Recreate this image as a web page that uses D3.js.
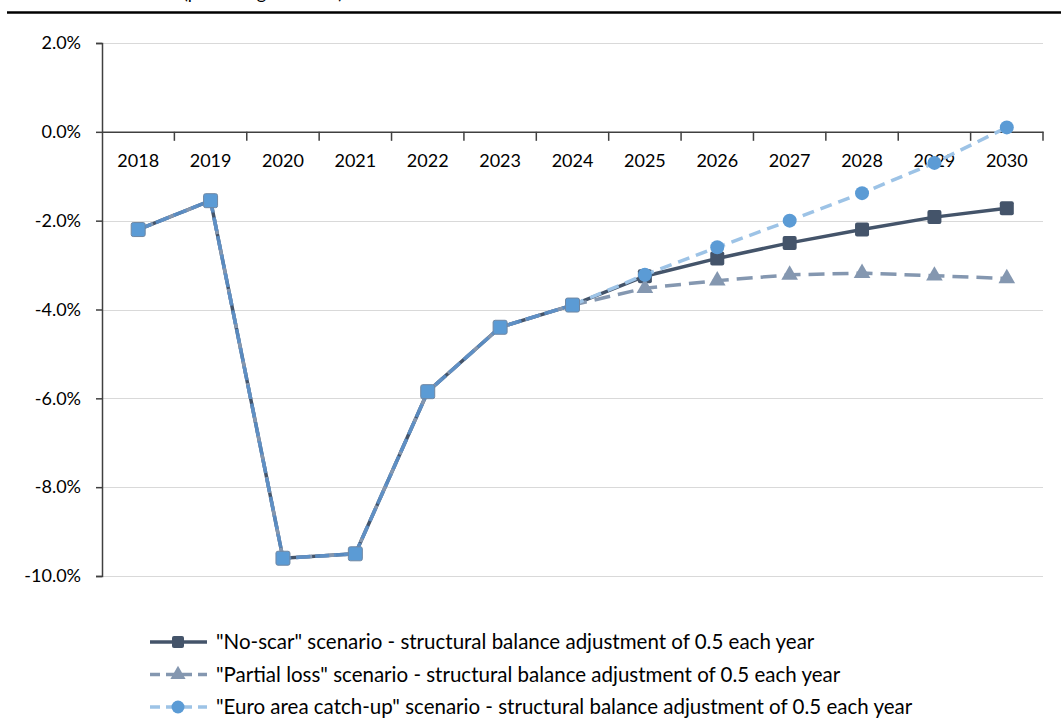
<!DOCTYPE html>
<html>
<head>
<meta charset="utf-8">
<script src="https://cdn.jsdelivr.net/npm/d3@7"></script>
<style>
  html, body { margin: 0; padding: 0; background: #fff; }
  svg { display: block; font-family: Lato, "Noto Sans", sans-serif; }
</style>
</head>
<body>
<svg id="chart" width="1061" height="726"></svg>
<script>
// General government balance, % of GDP
const years = [2018, 2019, 2020, 2021, 2022, 2023, 2024, 2025, 2026, 2027, 2028, 2029, 2030];
const lastOutturnYear = 2024;
const noScar      = [-2.2, -1.55, -9.6, -9.5, -5.85, -4.4, -3.9, -3.25, -2.85, -2.5, -2.2, -1.92, -1.72];
const partialLoss = [-2.2, -1.55, -9.6, -9.5, -5.85, -4.4, -3.9, -3.52, -3.35, -3.22, -3.18, -3.24, -3.3];
const euroCatchUp = [-2.2, -1.55, -9.6, -9.5, -5.85, -4.4, -3.9, -3.22, -2.6, -2.0, -1.38, -0.7, 0.1];
const yTicks = [2, 0, -2, -4, -6, -8, -10];
const seriesNames = [
  '"No-scar" scenario - structural balance adjustment of 0.5 each year',
  '"Partial loss" scenario - structural balance adjustment of 0.5 each year',
  '"Euro area catch-up" scenario - structural balance adjustment of 0.5 each year'
];

const svg = d3.select("#chart");
const plotLeft = 102, plotRight = 1043, plotTop = 43, plotBottom = 576;
const axisFont = 18, legendFont = 20.5;

const x = d3.scaleBand().domain(years).range([plotLeft, plotRight]);
const y = d3.scaleLinear().domain([-10, 2]).range([plotBottom, plotTop]);
const cx = d => x(d) + x.bandwidth() / 2;

// heading strip (runs off the top edge)
svg.append("text").attr("x", 183).attr("y", -1).attr("font-size", 18).attr("fill", "#000")
  .text("(percentage of GDP)");
svg.append("line").attr("x1", 7).attr("x2", 1061).attr("y1", 12.5).attr("y2", 12.5)
  .attr("stroke", "#000").attr("stroke-width", 2.5);

// gridlines
svg.append("g").selectAll("line").data(yTicks.filter(t => t !== 0)).join("line")
  .attr("x1", plotLeft).attr("x2", plotRight)
  .attr("y1", d => Math.round(y(d)) + 0.5).attr("y2", d => Math.round(y(d)) + 0.5)
  .attr("stroke", "#d9d9d9").attr("stroke-width", 1.2);

// value axis
const yAxis = d3.axisLeft(y).tickValues(yTicks).tickSize(6).tickPadding(15)
  .tickFormat(d => d.toFixed(1) + "%");
const yg = svg.append("g").attr("transform", `translate(${plotLeft},0)`).call(yAxis);
yg.select(".domain").attr("stroke", "#404040").attr("stroke-width", 1.5);
yg.selectAll(".tick line").attr("stroke", "#404040").attr("stroke-width", 1.5);
yg.selectAll(".tick text").attr("font-size", axisFont).attr("fill", "#000")
  .attr("font-family", "Lato, 'Noto Sans', sans-serif");

// category axis on the zero line
const xAxis = d3.axisBottom(x).tickSize(0).tickPadding(22);
const xg = svg.append("g").attr("transform", `translate(0,${y(0)})`).call(xAxis);
xg.select(".domain").attr("stroke", "#404040").attr("stroke-width", 1.5);
xg.selectAll(".tick text").attr("font-size", axisFont).attr("fill", "#000")
  .attr("font-family", "Lato, 'Noto Sans', sans-serif");
// band boundary tick marks
svg.append("g").selectAll("line").data(years.map(v => x(v) + x.bandwidth())).join("line")
  .attr("x1", d => d).attr("x2", d => d)
  .attr("y1", y(0)).attr("y2", y(0) + 9)
  .attr("stroke", "#404040").attr("stroke-width", 1.5);

const line = d3.line().x(d => cx(d.year)).y(d => y(d.v));
const pts = arr => years.map((yr, i) => ({ year: yr, v: arr[i] }));

const dNoScar = pts(noScar), dPartial = pts(partialLoss), dEuro = pts(euroCatchUp);

// No-scar: solid dark slate, square markers
svg.append("path").datum(dNoScar).attr("d", line)
  .attr("fill", "none").attr("stroke", "#44546a").attr("stroke-width", 3.5);
svg.append("g").selectAll("rect").data(dNoScar.filter(d => d.year > lastOutturnYear)).join("rect")
  .attr("x", d => cx(d.year) - 7).attr("y", d => y(d.v) - 7)
  .attr("width", 14).attr("height", 14).attr("rx", 2)
  .attr("fill", "#44546a");

// Partial loss: dashed grey-blue, triangle markers
svg.append("path").datum(dPartial).attr("d", line)
  .attr("fill", "none").attr("stroke", "#8497b0").attr("stroke-width", 3.5)
  .attr("stroke-dasharray", "16,8");
const tri = d3.symbol().type(d3.symbolTriangle).size(120);
svg.append("g").selectAll("path").data(dPartial.filter(d => d.year > lastOutturnYear)).join("path")
  .attr("d", tri).attr("transform", d => `translate(${cx(d.year)},${y(d.v)})`)
  .attr("fill", "#8497b0");

// Euro area catch-up: dashed light blue, circle markers
const dEuroHist = dEuro.filter(d => d.year <= lastOutturnYear);
const dEuroProj = dEuro.filter(d => d.year >= lastOutturnYear);
svg.append("path").datum(dEuroHist).attr("d", line)
  .attr("fill", "none").attr("stroke", "#5b8fc8").attr("stroke-width", 3.5)
  .attr("stroke-dasharray", "14,5").attr("opacity", 0.9);
svg.append("path").datum(dEuroProj).attr("d", line)
  .attr("fill", "none").attr("stroke", "#9dc3e6").attr("stroke-width", 3.5)
  .attr("stroke-dasharray", "12,7");
svg.append("g").selectAll("circle").data(dEuroProj.filter(d => d.year > lastOutturnYear)).join("circle")
  .attr("cx", d => cx(d.year)).attr("cy", d => y(d.v)).attr("r", 7)
  .attr("fill", "#5b9bd5");
// outturn points: shared square markers
svg.append("g").selectAll("rect").data(dEuroHist).join("rect")
  .attr("x", d => cx(d.year) - 7).attr("y", d => y(d.v) - 7)
  .attr("width", 14).attr("height", 14).attr("rx", 2)
  .attr("fill", "#5b9bd5").attr("stroke", "#6f87a3").attr("stroke-width", 1);

// legend
const legend = svg.append("g");
const rows = [
  { name: seriesNames[0], color: "#44546a", dash: null, marker: "square", mcolor: "#44546a" },
  { name: seriesNames[1], color: "#8497b0", dash: "10,6", marker: "triangle", mcolor: "#8497b0" },
  { name: seriesNames[2], color: "#9dc3e6", dash: "10,6", marker: "circle", mcolor: "#5b9bd5" }
];
rows.forEach((r, i) => {
  const ry = 642 + i * 32.5;
  const g = legend.append("g");
  g.append("line").attr("x1", 150).attr("x2", 207).attr("y1", ry).attr("y2", ry)
    .attr("stroke", r.color).attr("stroke-width", 3.5)
    .attr("stroke-dasharray", r.dash);
  if (r.marker === "square") {
    g.append("rect").attr("x", 178 - 6).attr("y", ry - 6).attr("width", 12).attr("height", 12)
      .attr("rx", 2).attr("fill", r.mcolor);
  } else if (r.marker === "triangle") {
    g.append("path").attr("d", d3.symbol().type(d3.symbolTriangle).size(100))
      .attr("transform", `translate(178,${ry})`).attr("fill", r.mcolor);
  } else {
    g.append("circle").attr("cx", 178).attr("cy", ry).attr("r", 6.5).attr("fill", r.mcolor);
  }
  g.append("text").attr("x", 216).attr("y", ry).attr("dy", "0.35em")
    .attr("font-size", legendFont).attr("fill", "#000").text(r.name);
});
</script>
</body>
</html>
